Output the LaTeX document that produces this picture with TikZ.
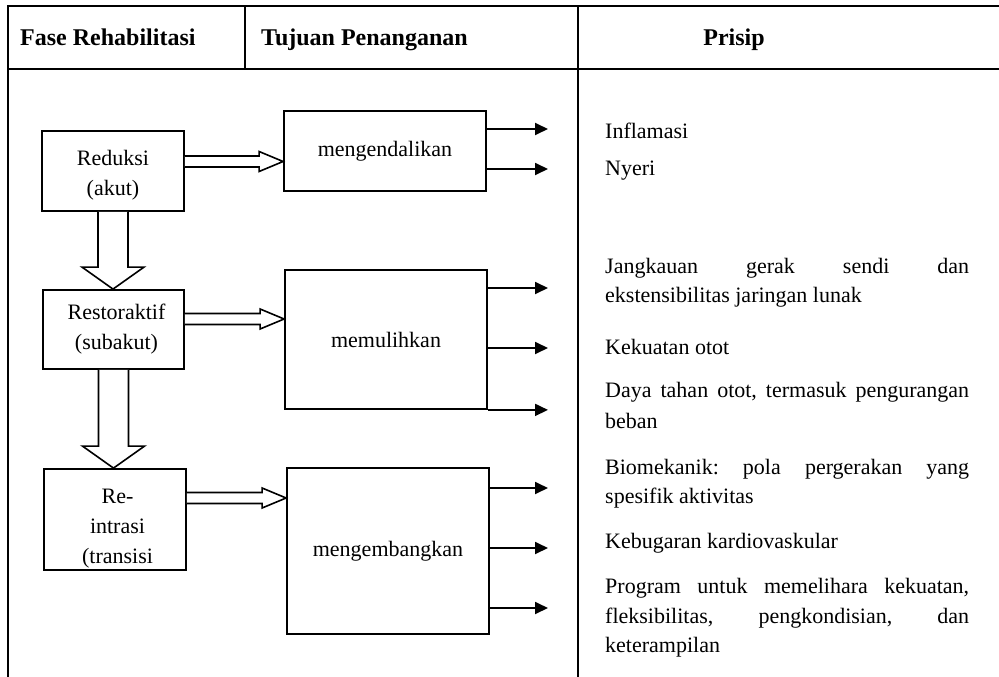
\documentclass[tikz,border=0pt]{standalone}
\usepackage{fontspec}
\setmainfont{Liberation Serif}
\usetikzlibrary{arrows.meta,calc}
\frenchspacing
\newcommand\bodyfont{\fontsize{22}{30}\selectfont}
\newcommand\hdrfont{\fontsize{24}{28}\selectfont\bfseries}
% horizontal hollow arrow from #1 to #2
\newcommand\hollowH[2]{%
  \draw[hol] ($(#1)+(0,-5.5)$) -- ($(#2)+(-24,-5.5)$) -- ($(#2)+(-24,-10)$) -- (#2)
     -- ($(#2)+(-24,10)$) -- ($(#2)+(-24,5.5)$) -- ($(#1)+(0,5.5)$);}
% vertical hollow arrow from #1 down to #2
\newcommand\hollowV[2]{%
  \draw[hol] ($(#1)+(-15,0)$) -- ($(#2)+(-15,-22)$) -- ($(#2)+(-31,-22)$) -- (#2)
     -- ($(#2)+(31,-22)$) -- ($(#2)+(15,-22)$) -- ($(#1)+(15,0)$);}
\begin{document}
\begin{tikzpicture}[x=1pt,y=-1pt,
  tbl/.style={line width=2.4pt},
  box/.style={draw, line width=1.8pt, inner sep=0pt, align=center, font=\bodyfont},
  hol/.style={draw, line width=1.6pt, fill=white, line join=miter},
  outarr/.style={line width=1.8pt, -{Triangle[length=13pt,width=12pt]}},
  txt/.style={anchor=base west, inner sep=0pt, font=\bodyfont},
  hdr/.style={anchor=base west, inner sep=0pt, font=\hdrfont}]
\useasboundingbox (0,0) rectangle (999,677);
\fill[white] (0,0) rectangle (999,677);
% table
\draw[tbl] (999,6) -- (8,6) -- (8,680);
\draw[tbl] (8,69) -- (999,69);
\draw[tbl] (245,6) -- (245,69);
\draw[tbl] (578,6) -- (578,680);
% headers
\node[hdr] (h1) at (20,46) {Fase Rehabilitasi};
\node[hdr] (h2) at (261,46) {Tujuan Penanganan};
\node[anchor=base, inner sep=0pt, font=\hdrfont] (h3) at (734,46) {Prisip};
% phase boxes
\node[box, minimum width=142pt, minimum height=80pt] (red) at (113,171) {\rule{0pt}{24pt}Reduksi\\(akut)};
\node[box, minimum width=141pt, minimum height=79pt] (rest) at (113.5,329.5) {\hspace*{6pt}Restoraktif\\\hspace*{6pt}(subakut)};
\node[box, minimum width=142pt, minimum height=101pt] (rein) at (115,519.5) {\rule{0pt}{32pt}\hspace*{5pt}Re-\\\hspace*{5pt}intrasi\\\hspace*{5pt}(transisi};
% goal boxes
\node[box, minimum width=202pt, minimum height=80pt] (mend) at (385,151) {mengendalikan};
\node[box, minimum width=202pt, minimum height=139pt] (mem) at (386,339.5) {memulihkan};
\node[box, minimum width=202pt, minimum height=166pt] (meng) at (388,551) {mengembangkan};
% hollow arrows
\coordinate (ha1) at (0,161.5);
\coordinate (ha2) at (0,319);
\coordinate (ha3) at (0,498);
\coordinate (a1s) at (red.east |- ha1);  \coordinate (a1e) at (mend.west |- ha1);
\coordinate (a2s) at (rest.east |- ha2); \coordinate (a2e) at (mem.west |- ha2);
\coordinate (a3s) at (rein.east |- ha3); \coordinate (a3e) at (meng.west |- ha3);
\hollowH{a1s}{a1e}
\hollowH{a2s}{a2e}
\hollowH{a3s}{a3e}
\coordinate (v1s) at (red.south);  \coordinate (v1e) at (red.south |- rest.north);
\coordinate (v2s) at (rest.south); \coordinate (v2e) at (rest.south |- rein.north);
\hollowV{v1s}{v1e}
\hollowV{v2s}{v2e}
% output arrows
\coordinate (o1) at (548,129);
\coordinate (o2) at (548,169);
\coordinate (o3) at (548,288);
\coordinate (o4) at (548,348);
\coordinate (o5) at (548,409);
\coordinate (o6) at (548,488);
\coordinate (o7) at (548,548);
\coordinate (o8) at (548,608);
\draw[outarr] (mend.east |- o1) -- (o1);
\draw[outarr] (mend.east |- o2) -- (o2);
\draw[outarr] (mem.east |- o3) -- (o3);
\draw[outarr] (mem.east |- o4) -- (o4);
\draw[outarr] (mem.south east) -- (o5 |- mem.south east);
\draw[outarr] (meng.east |- o6) -- (o6);
\draw[outarr] (meng.east |- o7) -- (o7);
\draw[outarr] (meng.east |- o8) -- (o8);
% principles
\node[txt] (p1) at (605,138) {Inflamasi};
\node[txt] (p2) at (605,175) {Nyeri};
\node[txt] (p3) at (605,273) {\makebox[364pt][s]{Jangkauan gerak sendi dan}};
\node[txt] (p4) at (605,302) {ekstensibilitas jaringan lunak};
\node[txt] (p5) at (605,354) {Kekuatan otot};
\node[txt] (p6) at (605,397) {\makebox[364pt][s]{Daya tahan otot, termasuk pengurangan}};
\node[txt] (p7) at (605,428) {beban};
\node[txt] (p8) at (605,474) {\makebox[364pt][s]{Biomekanik: pola pergerakan yang}};
\node[txt] (p9) at (605,503) {spesifik aktivitas};
\node[txt] (p10) at (605,548) {Kebugaran kardiovaskular};
\node[txt] (p11) at (605,593) {\makebox[364pt][s]{Program untuk memelihara kekuatan,}};
\node[txt] (p12) at (605,623) {\makebox[364pt][s]{fleksibilitas, pengkondisian, dan}};
\node[txt] (p13) at (605,652) {keterampilan};
\end{tikzpicture}
\end{document}
